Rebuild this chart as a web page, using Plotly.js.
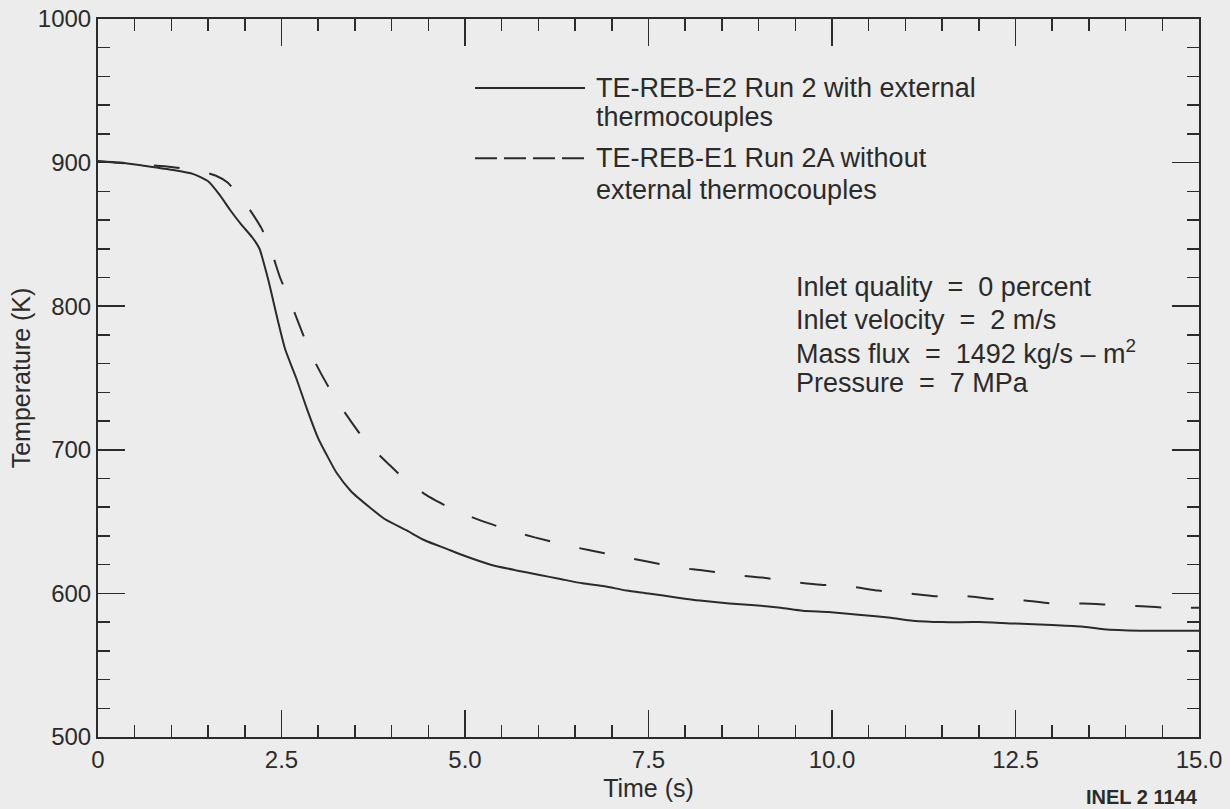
<!DOCTYPE html>
<html>
<head>
<meta charset="utf-8">
<script src="https://cdn.plot.ly/plotly-3.0.1.min.js"></script>
<style>
  html, body { margin: 0; padding: 0; background: #ececec; }
  #chart { width: 1230px; height: 809px; }
</style>
</head>
<body>
<div id="chart"></div>
<script>
// Surface temperature during reflood, two runs of the same rod
const timeRun2 = [0, 0.3, 0.6, 1.0, 1.3, 1.5, 1.65, 1.8, 1.95, 2.1, 2.2, 2.28, 2.35, 2.45, 2.55, 2.7, 2.85, 3.0, 3.1, 3.25, 3.45, 3.7, 3.9, 4.2, 4.45, 4.75, 5.0, 5.35, 5.7, 6.0, 6.3, 6.6, 6.9, 7.2, 7.5, 7.9, 8.2, 8.6, 8.9, 9.3, 9.6, 9.95, 10.4, 10.8, 11.1, 11.5, 12.0, 12.5, 13.0, 13.4, 13.7, 14.2, 14.6, 15.0];
const tempRun2 = [901, 900, 898, 895, 892, 887, 878, 867, 857, 848, 840, 826, 812, 790, 770, 750, 728, 708, 698, 684, 671, 660, 652, 644, 637, 631, 626, 620, 616, 613, 610, 607, 605, 602, 600, 597, 595, 593, 592, 590, 588, 587, 585, 583, 581, 580, 580, 579, 578, 577, 575, 574, 574, 574];

const timeRun2A = [0, 0.5, 1.0, 1.4, 1.6, 1.77, 1.9, 2.03, 2.23, 2.37, 2.48, 2.62, 2.75, 2.89, 3.05, 3.23, 3.43, 3.66, 3.94, 4.21, 4.52, 4.86, 5.2, 5.61, 5.95, 6.34, 6.7, 7.1, 7.5, 7.9, 8.25, 8.65, 9.05, 9.45, 9.85, 10.22, 10.63, 11.04, 11.4, 11.84, 12.22, 12.63, 13.0, 13.42, 13.81, 14.22, 14.6, 15.0];
const tempRun2A = [901, 899, 897, 894, 891, 886, 878, 870, 854, 837, 820, 803, 786, 768, 752, 736, 721, 705, 691, 678, 667, 658, 651, 644, 639, 634, 630, 626, 622, 618, 616, 613, 611, 608, 606, 605, 602, 600, 598, 598, 596, 595, 593, 593, 592, 591, 590, 590];

const xTickVals = [0, 2.5, 5, 7.5, 10, 12.5, 15];
const xTickText = ['0', '2.5', '5.0', '7.5', '10.0', '12.5', '15.0'];
const yTickVals = [500, 600, 700, 800, 900, 1000];

const seriesNames = [
  ['TE-REB-E2 Run 2 with external', 'thermocouples'],
  ['TE-REB-E1 Run 2A without', 'external thermocouples']
];
const conditions = [
  'Inlet quality  =  0 percent',
  'Inlet velocity  =  2 m/s',
  'Mass flux  =  1492 kg/s \u2013 m<sup>2</sup>',
  'Pressure  =  7 MPa'
];

const ink = '#2b2b2b';
const fontFamily = '"Liberation Sans", Arial, Helvetica, sans-serif';

const traces = [
  {
    x: timeRun2, y: tempRun2, mode: 'lines', name: seriesNames[0].join(' '),
    line: {color: ink, width: 2, shape: 'spline', smoothing: 0.6},
    showlegend: false, hoverinfo: 'skip'
  },
  {
    x: timeRun2A, y: tempRun2A, mode: 'lines', name: seriesNames[1].join(' '),
    line: {color: ink, width: 2, dash: '26px,30px', shape: 'spline', smoothing: 0.6},
    showlegend: false, hoverinfo: 'skip'
  }
];

const axisCommon = {
  showgrid: false, zeroline: false,
  showline: true, linecolor: ink, linewidth: 2,
  mirror: 'ticks', ticks: 'inside', tickcolor: ink, tickwidth: 1.5,
  tickfont: {family: fontFamily, size: 24, color: ink},
  fixedrange: true
};

// Legend key and condition notes, positioned in plot-fraction coordinates
const annotations = [];
const legendRows = [[0.904, 0.863], [0.806, 0.762]];
seriesNames.forEach((lines, i) => {
  lines.forEach((txt, j) => {
    annotations.push({
      xref: 'paper', yref: 'paper', x: 0.4505, y: legendRows[i][j],
      xanchor: 'left', yanchor: 'middle', showarrow: false, text: txt,
      font: {family: fontFamily, size: 27, color: ink}
    });
  });
});
const condRows = [0.6267, 0.5808, 0.5362, 0.4930];
conditions.forEach((txt, i) => {
  annotations.push({
    xref: 'paper', yref: 'paper', x: 0.632, y: condRows[i],
    xanchor: 'left', yanchor: 'middle', showarrow: false, text: txt,
    font: {family: fontFamily, size: 27, color: ink}
  });
});
annotations.push({
  xref: 'paper', yref: 'paper', x: 1.001, y: -0.083,
  xanchor: 'right', yanchor: 'middle', showarrow: false, text: '<b>INEL 2 1144</b>',
  font: {family: fontFamily, size: 20, color: ink}
});

const shapes = [
  {type: 'line', xref: 'paper', yref: 'paper', x0: 0.3424, x1: 0.4423, y0: 0.904, y1: 0.904,
   line: {color: ink, width: 2}},
  {type: 'line', xref: 'paper', yref: 'paper', x0: 0.3424, x1: 0.4423, y0: 0.806, y1: 0.806,
   line: {color: ink, width: 2, dash: '22px,7px'}}
];

const layout = {
  width: 1230, height: 809,
  margin: {l: 98, r: 31, t: 19, b: 72},
  paper_bgcolor: '#ececec', plot_bgcolor: '#ececec',
  font: {family: fontFamily, color: ink},
  xaxis: Object.assign({}, axisCommon, {
    range: [0, 15], tickvals: xTickVals, ticktext: xTickText, ticklen: 27,
    minor: {dtick: 0.5, ticks: 'inside', ticklen: 12, tickcolor: ink, tickwidth: 1.5, showgrid: false},
    title: {text: 'Time (s)', font: {family: fontFamily, size: 25, color: ink}, standoff: 8}
  }),
  yaxis: Object.assign({}, axisCommon, {
    range: [500, 1000], tickvals: yTickVals, ticklen: 27,
    minor: {dtick: 20, ticks: 'inside', ticklen: 12, tickcolor: ink, tickwidth: 1.5, showgrid: false},
    title: {text: 'Temperature (K)', font: {family: fontFamily, size: 25, color: ink}, standoff: 0}
  }),
  annotations: annotations,
  shapes: shapes,
  showlegend: false
};

Plotly.newPlot('chart', traces, layout, {displayModeBar: false, staticPlot: true});
</script>
</body>
</html>
